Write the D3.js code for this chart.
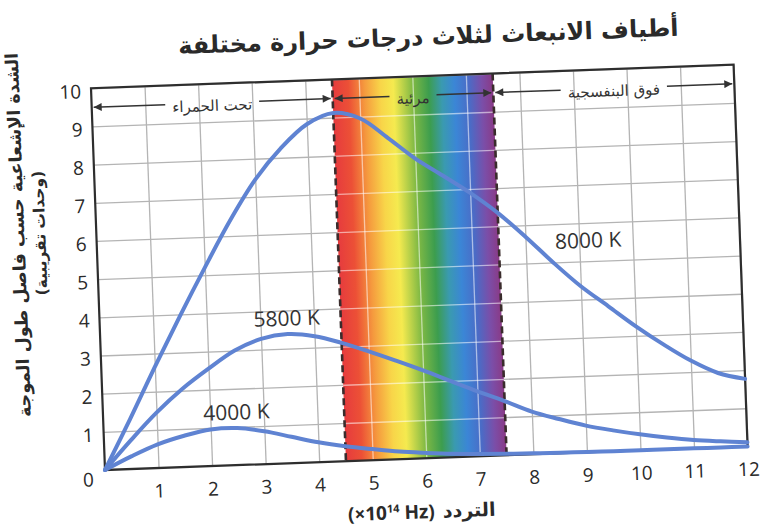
<!DOCTYPE html>
<html>
<head>
<meta charset="utf-8">
<script src="https://cdn.jsdelivr.net/npm/d3@7"></script>
<style>
body { margin: 0; background: #fff; }
</style>
</head>
<body>
<svg width="760" height="527"></svg>
<script>
// frequency (x10^14 Hz) and intensity
var freq  = [0, 0.5, 1, 1.5, 2, 2.5, 3, 3.5, 4, 4.5, 5, 5.5, 6, 6.5, 7, 7.5, 8, 8.5, 9, 9.5, 10, 10.5, 11, 11.5, 12];
var k8000 = [0, 1.3, 2.65, 3.95, 5.2, 6.4, 7.45, 8.25, 8.85, 9.12, 8.95, 8.42, 7.85, 7.38, 6.9, 6.35, 5.7, 5.0, 4.35, 3.8, 3.25, 2.75, 2.3, 1.95, 1.77];
var k5800 = [0, 0.75, 1.45, 2.05, 2.55, 3.0, 3.28, 3.38, 3.3, 3.1, 2.85, 2.58, 2.3, 2.0, 1.7, 1.42, 1.12, 0.9, 0.7, 0.55, 0.42, 0.31, 0.22, 0.16, 0.11];
var k4000 = [0, 0.33, 0.62, 0.82, 0.96, 0.97, 0.86, 0.69, 0.52, 0.39, 0.29, 0.2, 0.14, 0.09, 0.06, 0.04, 0.025, 0.015, 0.01, 0.005, 0.003, 0.002, 0.001, 0, 0];

var xTicks = [1, 2, 3, 4, 5, 6, 7, 8, 9, 10, 11, 12];
var yTicks = [1, 2, 3, 4, 5, 6, 7, 8, 9, 10];

var regionNames = ['تحت الحمراء', 'مرئية', 'فوق البنفسجية'];
var regionEdges = [0, 4.5, 7.5, 12];

var curveNames = ['8000 K', '5800 K', '4000 K'];
var curveLabelX = [9.17, 3.49, 2.49];
var curveLabelY = [5.55, 3.8, 1.39];

var title = 'أطياف الانبعاث لثلاث درجات حرارة مختلفة';
var yTitle1 = 'الشدة الإشعاعية حسب فاصل طول الموجة';
var yTitle2 = '(وحدات تقريبية)';
var xTitleAr = 'التردد';

var padL = 105, padR = 748, padT = 88, padB = 470;
var arabic = '"DejaVu Sans", sans-serif';
var latin = '"Open Sans", "DejaVu Sans", sans-serif';

var x = d3.scaleLinear().domain([0, 12]).range([padL, padR]);
var y = d3.scaleLinear().domain([0, 10]).range([padB, padT]);

var svg = d3.select('svg');
var defs = svg.append('defs');

var grad = defs.append('linearGradient').attr('id', 'spectrum');
[[0, '#e63b3e'], [0.1, '#ec5036'], [0.2, '#f59a3e'], [0.3, '#f8d549'], [0.38, '#f5ea4f'],
 [0.5, '#7fb944'], [0.6, '#3c9d4e'], [0.68, '#3a9ab0'], [0.76, '#3b86d6'], [0.85, '#4b6bc6'],
 [0.93, '#7b4ea8'], [1, '#8a3a86']].forEach(function (s) {
  grad.append('stop').attr('offset', s[0]).attr('stop-color', s[1]);
});

defs.append('clipPath').attr('id', 'bandClip')
  .append('rect')
  .attr('x', x(regionEdges[1])).attr('y', y(10))
  .attr('width', x(regionEdges[2]) - x(regionEdges[1]))
  .attr('height', y(0) - y(10));

defs.append('marker')
  .attr('id', 'arrow')
  .attr('viewBox', '0 0 10 10')
  .attr('refX', 10).attr('refY', 5)
  .attr('markerWidth', 10).attr('markerHeight', 8)
  .attr('markerUnits', 'userSpaceOnUse')
  .attr('orient', 'auto-start-reverse')
  .append('path')
  .attr('d', 'M0,0L10,5L0,10z')
  .attr('fill', '#333');

// the scan is slightly tilted
var g = svg.append('g').attr('transform', 'rotate(-2.1,' + padL + ',' + padB + ')');

// grid
var xGrid = d3.axisBottom(x).tickValues(xTicks).tickSize(-(padB - padT)).tickFormat('');
var yGrid = d3.axisLeft(y).tickValues(yTicks).tickSize(-(padR - padL)).tickFormat('');

g.append('g').attr('transform', 'translate(0,' + padB + ')').call(xGrid)
  .call(s => s.select('.domain').remove())
  .selectAll('line').attr('stroke', '#b4b4b4').attr('stroke-width', 1.3);
g.append('g').attr('transform', 'translate(' + padL + ',0)').call(yGrid)
  .call(s => s.select('.domain').remove())
  .selectAll('line').attr('stroke', '#b4b4b4').attr('stroke-width', 1.3);

// visible band
g.append('rect')
  .attr('x', x(regionEdges[1])).attr('y', y(10))
  .attr('width', x(regionEdges[2]) - x(regionEdges[1]))
  .attr('height', y(0) - y(10))
  .attr('fill', 'url(#spectrum)');

var bandGrid = g.append('g').attr('clip-path', 'url(#bandClip)');
bandGrid.append('g').attr('transform', 'translate(0,' + padB + ')').call(xGrid)
  .call(s => s.select('.domain').remove())
  .selectAll('line').attr('stroke', '#fff').attr('stroke-opacity', 0.55).attr('stroke-width', 1.3);
bandGrid.append('g').attr('transform', 'translate(' + padL + ',0)').call(yGrid)
  .call(s => s.select('.domain').remove())
  .selectAll('line').attr('stroke', '#fff').attr('stroke-opacity', 0.55).attr('stroke-width', 1.3);

g.selectAll('.edge')
  .data([regionEdges[1], regionEdges[2]])
  .enter()
  .append('line')
  .attr('x1', d => x(d)).attr('x2', d => x(d))
  .attr('y1', y(10)).attr('y2', y(0))
  .attr('stroke', '#3a2c2c')
  .attr('stroke-width', 2.6)
  .attr('stroke-dasharray', '7,4');

// frame
g.append('rect')
  .attr('x', padL).attr('y', padT)
  .attr('width', padR - padL).attr('height', padB - padT)
  .attr('fill', 'none')
  .attr('stroke', '#2e2e2e')
  .attr('stroke-width', 2.2);

// region arrows
var rowY = y(9.5);
regionNames.forEach(function (name, i) {
  var a = x(regionEdges[i]), b = x(regionEdges[i + 1]), mid = (a + b) / 2;
  var t = g.append('text')
    .attr('x', mid).attr('y', rowY + 8)
    .attr('text-anchor', 'middle')
    .style('font-family', arabic)
    .style('font-size', '15px')
    .attr('fill', '#333')
    .text(name);
  var w = t.node().getComputedTextLength();
  g.append('line')
    .attr('x1', mid - w / 2 - 7).attr('x2', a + 2)
    .attr('y1', rowY).attr('y2', rowY)
    .attr('stroke', '#333').attr('stroke-width', 1.5)
    .attr('marker-end', 'url(#arrow)');
  g.append('line')
    .attr('x1', mid + w / 2 + 7).attr('x2', b - 2)
    .attr('y1', rowY).attr('y2', rowY)
    .attr('stroke', '#333').attr('stroke-width', 1.5)
    .attr('marker-end', 'url(#arrow)');
});

// curves
var line = d3.line()
  .x(d => x(d[0]))
  .y(d => y(d[1]))
  .curve(d3.curveCatmullRom.alpha(0.5));

[k8000, k5800, k4000].forEach(function (series) {
  g.append('path')
    .datum(freq.map((f, i) => [f, series[i]]))
    .attr('d', line)
    .attr('fill', 'none')
    .attr('stroke', '#5f83d2')
    .attr('stroke-width', 4)
    .attr('stroke-linecap', 'round');
});

g.selectAll('.clabel')
  .data(curveNames)
  .enter()
  .append('text')
  .attr('x', (d, i) => x(curveLabelX[i]))
  .attr('y', (d, i) => y(curveLabelY[i]))
  .attr('dy', '0.36em')
  .attr('text-anchor', 'middle')
  .style('font-family', latin)
  .style('font-size', '21px')
  .attr('fill', '#333')
  .text(d => d);

// tick labels
var xAxis = d3.axisBottom(x).tickValues(xTicks).tickSize(0).tickPadding(16);
var yAxis = d3.axisLeft(y).tickValues(yTicks).tickSize(0).tickPadding(10);

g.append('g').attr('transform', 'translate(0,' + padB + ')').call(xAxis)
  .call(s => s.select('.domain').remove())
  .selectAll('text')
  .style('font-family', latin).style('font-size', '19px').attr('fill', '#2a2a2a');

g.append('g').attr('transform', 'translate(' + padL + ',0)').call(yAxis)
  .call(s => s.select('.domain').remove())
  .selectAll('text')
  .attr('dy', '0.48em')
  .style('font-family', latin).style('font-size', '19px').attr('fill', '#2a2a2a');

g.append('text')
  .attr('x', x(0) - 17).attr('y', y(0) + 16)
  .attr('text-anchor', 'middle')
  .style('font-family', latin).style('font-size', '19px')
  .attr('fill', '#2a2a2a')
  .text('0');

// titles
g.append('text')
  .attr('x', 444).attr('y', 57)
  .attr('text-anchor', 'middle')
  .style('font-family', arabic)
  .style('font-size', '24px')
  .style('font-weight', 'bold')
  .attr('fill', '#2a2a2a')
  .text(title);

g.append('text')
  .attr('transform', 'translate(33,232) rotate(-90)')
  .attr('text-anchor', 'middle')
  .style('font-family', arabic)
  .style('font-size', '17.5px')
  .style('font-weight', 'bold')
  .attr('fill', '#2a2a2a')
  .text(yTitle1);

g.append('text')
  .attr('transform', 'translate(54,231) rotate(-90)')
  .attr('text-anchor', 'middle')
  .style('font-family', arabic)
  .style('font-size', '15.5px')
  .style('font-weight', 'bold')
  .attr('fill', '#2a2a2a')
  .text(yTitle2);

var xt = g.append('text')
  .attr('x', 433).attr('y', 530)
  .attr('text-anchor', 'end')
  .style('font-family', latin)
  .style('font-size', '19px')
  .style('font-weight', 'bold')
  .attr('fill', '#2a2a2a');
xt.append('tspan').text('(×10');
xt.append('tspan').attr('dy', '-7').style('font-size', '11px').text('14');
xt.append('tspan').attr('dy', '7').text(' Hz)');

g.append('text')
  .attr('x', 441).attr('y', 530)
  .attr('text-anchor', 'start')
  .style('font-family', arabic)
  .style('font-size', '19px')
  .style('font-weight', 'bold')
  .attr('fill', '#2a2a2a')
  .text(xTitleAr);
</script>
</body>
</html>
